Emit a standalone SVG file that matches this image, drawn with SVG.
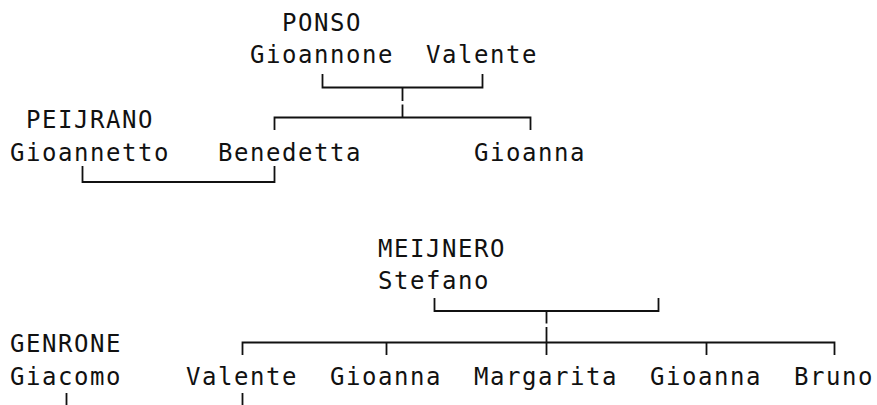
<svg xmlns="http://www.w3.org/2000/svg" width="877" height="405" viewBox="0 0 877 405">
<style>
text{font-family:"DejaVu Sans Mono","Liberation Mono",monospace;font-size:24px;letter-spacing:1.55px;fill:#111}
.c{fill:none;stroke:#111;stroke-width:1.8}
</style>
<rect width="877" height="405" fill="#fff"/>
<g id="connectors">
<path class="c" d="M322.5 74V87.5H482.5V74"/>
<path class="c" d="M402.5 87.5V101M402.5 104.5V117.5"/>
<path class="c" d="M274.5 130V117.5H530.5V130"/>
<path class="c" d="M82.5 166V182H274.5V166"/>
<path class="c" d="M434.5 298V311H658.5V298"/>
<path class="c" d="M546.5 311V323.5M546.5 327V355"/>
<path class="c" d="M242.5 355V342.5H834.5V355"/>
<path class="c" d="M386.5 342.5V355M706.5 342.5V355"/>
<path class="c" d="M66.5 393V405M242.5 393V405"/>
</g>
<g id="family-ponso"><text x="282" y="31">PONSO</text></g>
<g id="gioannone"><text x="250" y="63">Gioannone</text></g>
<g id="valente-ponso"><text x="426" y="63">Valente</text></g>
<g id="family-peijrano"><text x="26" y="128">PEIJRANO</text></g>
<g id="gioannetto"><text x="10" y="161">Gioannetto</text></g>
<g id="benedetta"><text x="218" y="161">Benedetta</text></g>
<g id="gioanna-ponso"><text x="474" y="161">Gioanna</text></g>
<g id="family-meijnero"><text x="378" y="257">MEIJNERO</text></g>
<g id="stefano"><text x="378" y="289">Stefano</text></g>
<g id="family-genrone"><text x="10" y="352">GENRONE</text></g>
<g id="giacomo"><text x="10" y="385">Giacomo</text></g>
<g id="valente"><text x="186" y="385">Valente</text></g>
<g id="gioanna-1"><text x="330" y="385">Gioanna</text></g>
<g id="margarita"><text x="474" y="385">Margarita</text></g>
<g id="gioanna-2"><text x="650" y="385">Gioanna</text></g>
<g id="bruno"><text x="794" y="385">Bruno</text></g>
</svg>
